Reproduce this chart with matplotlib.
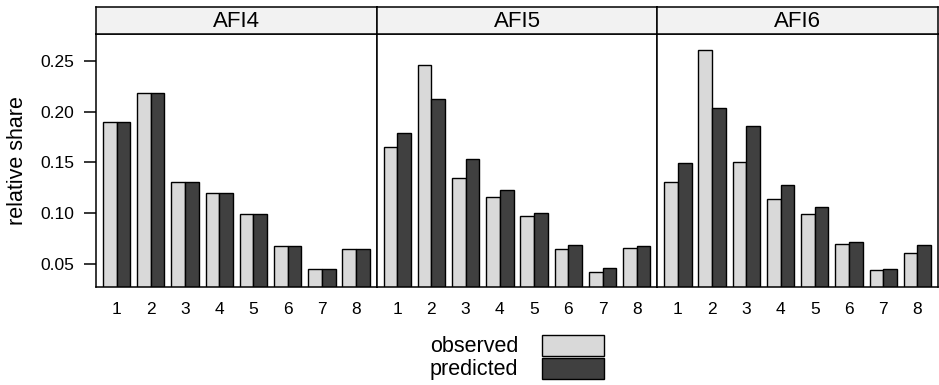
import matplotlib
matplotlib.use("Agg")
import matplotlib.pyplot as plt
from matplotlib.patches import Patch

# ── Data ─────────────────────────────────────────────────────────────────────
panels = ["AFI4", "AFI5", "AFI6"]
categories = [1, 2, 3, 4, 5, 6, 7, 8]

observed_afi4  = [0.190, 0.218, 0.131, 0.120, 0.099, 0.068, 0.045, 0.065]
predicted_afi4 = [0.190, 0.218, 0.131, 0.120, 0.099, 0.068, 0.045, 0.065]
observed_afi5  = [0.165, 0.246, 0.135, 0.116, 0.097, 0.065, 0.042, 0.066]
predicted_afi5 = [0.179, 0.213, 0.153, 0.123, 0.100, 0.069, 0.046, 0.068]
observed_afi6  = [0.131, 0.261, 0.150, 0.114, 0.099, 0.070, 0.044, 0.061]
predicted_afi6 = [0.149, 0.204, 0.186, 0.128, 0.106, 0.072, 0.045, 0.069]

observed = [observed_afi4, observed_afi5, observed_afi6]
predicted = [predicted_afi4, predicted_afi5, predicted_afi6]

yticks = [0.05, 0.10, 0.15, 0.20, 0.25]
ylim = (0.0273, 0.2766)

LIGHT = "#d9d9d9"
DARK = "#404040"
STRIP = "#f2f2f2"
FONT = "Liberation Sans"

plt.rcParams["font.family"] = [FONT, "DejaVu Sans"]

# ── Layout (pixel-based, 939x385) ────────────────────────────────────────────
W, H = 939, 385
fig = plt.figure(figsize=(W / 100, H / 100), dpi=100)

left_px, right_px = 96, 938
top_px, bottom_px, strip_top_px = 34, 287, 7
pw = (right_px - left_px) / 3

bw = 0.4
for i, name in enumerate(panels):
    x0 = (left_px + i * pw) / W
    ax = fig.add_axes([x0, 1 - bottom_px / H, pw / W, (bottom_px - top_px) / H])
    xs = categories
    ax.bar([c - bw / 2 for c in xs], observed[i], width=bw, color=LIGHT,
           edgecolor="black", linewidth=1.0)
    ax.bar([c + bw / 2 for c in xs], predicted[i], width=bw, color=DARK,
           edgecolor="black", linewidth=1.0)
    ax.set_xlim(0.4, 8.6)
    ax.set_ylim(*ylim)
    ax.set_xticks(categories)
    ax.set_xticklabels([str(c) for c in categories], fontsize=12.5)
    ax.tick_params(axis="x", length=0, pad=11)
    ax.set_yticks(yticks)
    if i == 0:
        ax.set_yticklabels([f"{t:.2f}" for t in yticks], fontsize=12.5)
        ax.tick_params(axis="y", direction="out", length=8.6, width=1.1, pad=7)
    else:
        ax.tick_params(axis="y", length=0, labelleft=False)
    for s in ax.spines.values():
        s.set_linewidth(1.1)

    # strip
    sx = fig.add_axes([x0, 1 - top_px / H, pw / W, (top_px - strip_top_px) / H])
    sx.set_facecolor(STRIP)
    sx.set_xticks([])
    sx.set_yticks([])
    for s in sx.spines.values():
        s.set_linewidth(1.1)
    sx.text(0.5, 0.47, name, ha="center", va="center", fontsize=16,
            transform=sx.transAxes)

fig.text(18 / W, 1 - 160.5 / H, "relative share", rotation=90,
         ha="center", va="center", fontsize=15.5)

# ── Legend ───────────────────────────────────────────────────────────────────
handles = [Patch(facecolor=LIGHT, edgecolor="black", linewidth=1.0),
           Patch(facecolor=DARK, edgecolor="black", linewidth=1.0)]
fig.legend(handles, ["observed", "predicted"], loc="center",
           bbox_to_anchor=(517 / W, 1 - 357.5 / H), frameon=False,
           markerfirst=False, fontsize=15.5, handlelength=2.9,
           handleheight=1.15, labelspacing=0.0, handletextpad=1.1,
           borderpad=0, borderaxespad=0)

fig.savefig("out.png", dpi=100)
